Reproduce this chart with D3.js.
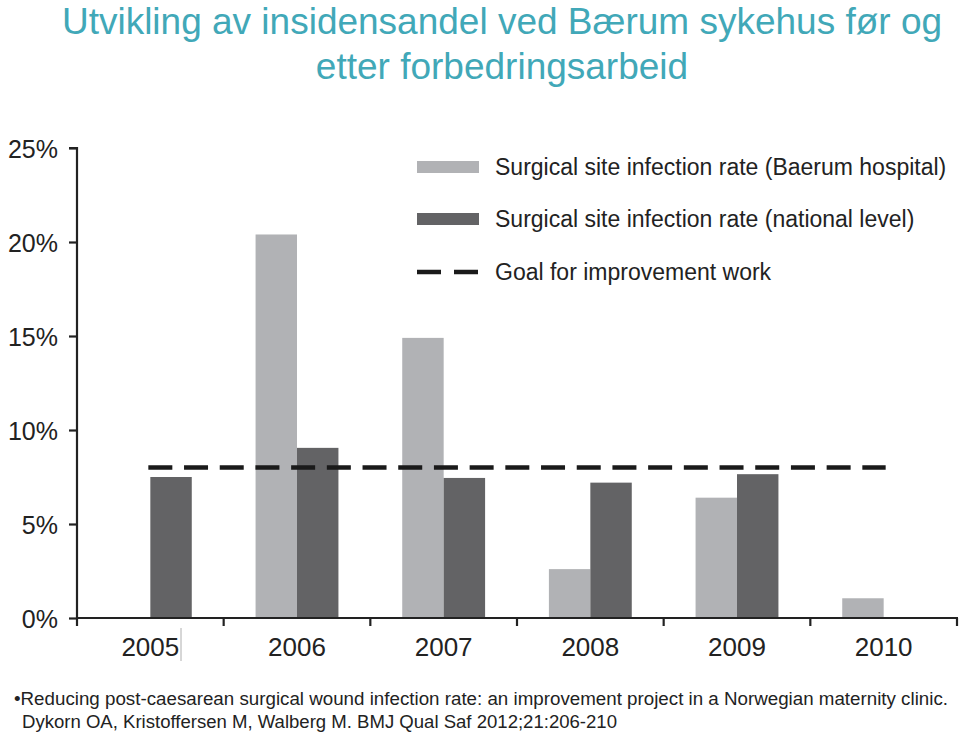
<!DOCTYPE html>
<html>
<head>
<meta charset="utf-8">
<script src="https://cdn.jsdelivr.net/npm/d3@7"></script>
<style>
  html, body { margin: 0; padding: 0; background: #fff; }
  svg { display: block; font-family: "Liberation Sans", Arial, sans-serif; }
</style>
</head>
<body>
<svg id="chart" width="960" height="734"></svg>
<script>
// ---- data ----
const titleLines = ["Utvikling av insidensandel ved Bærum sykehus før og", "etter forbedringsarbeid"];
const years = ["2005", "2006", "2007", "2008", "2009", "2010"];
const baerum = [null, 20.4, 14.9, 2.6, 6.4, 1.05];
const national = [7.5, 9.05, 7.45, 7.2, 7.65, null];
const goal = 8;
const yTicks = [0, 5, 10, 15, 20, 25];
const seriesNames = ["Surgical site infection rate (Baerum hospital)", "Surgical site infection rate (national level)", "Goal for improvement work"];
const footerLines = ["•Reducing post-caesarean surgical wound infection rate: an improvement project in a Norwegian maternity clinic.", "Dykorn OA, Kristoffersen M, Walberg M. BMJ Qual Saf 2012;21:206-210"];

const colLight = "#b1b2b5", colDark = "#636365", colTitle = "#41a8b8", colText = "#222";

const svg = d3.select("#chart");

// title
svg.append("g").selectAll("text").data(titleLines).join("text")
  .attr("x", 502).attr("y", (d, i) => 34 + i * 45)
  .attr("text-anchor", "middle").attr("fill", colTitle)
  .attr("font-size", 37).text(d => d);

// scales
const x = d3.scaleBand().domain(years).range([77, 957]).padding(0);
const x1 = d3.scaleBand().domain(["baerum", "national"]).range([0, x.bandwidth()]).paddingInner(0).paddingOuter(0.77);
const y = d3.scaleLinear().domain([0, 25]).range([618, 148]);

// bars
const rows = years.map((yr, i) => ({ yr, baerum: baerum[i], national: national[i] }));
const g = svg.append("g");
const grp = g.selectAll("g.year").data(rows).join("g").attr("transform", d => `translate(${x(d.yr)},0)`);
grp.selectAll("rect").data(d => [
  { k: "baerum", v: d.baerum, c: colLight },
  { k: "national", v: d.national, c: colDark }
].filter(e => e.v != null)).join("rect")
  .attr("x", e => x1(e.k)).attr("width", x1.bandwidth())
  .attr("y", e => y(e.v)).attr("height", e => y(0) - y(e.v))
  .attr("fill", e => e.c);

// goal line
svg.append("line")
  .attr("x1", x(years[0]) + x.bandwidth() / 2 - 2)
  .attr("x2", x(years[years.length - 1]) + x.bandwidth() / 2 + 2)
  .attr("y1", y(goal)).attr("y2", y(goal))
  .attr("stroke", "#1a1a1a").attr("stroke-width", 4.5)
  .attr("stroke-dasharray", "24,11.7").attr("stroke-linecap", "butt");

// y axis
const yAxis = d3.axisLeft(y).tickValues(yTicks).tickFormat(d => d + "%").tickSize(8).tickPadding(11);
const ya = svg.append("g").attr("transform", "translate(77,0)").call(yAxis);
ya.select(".domain").attr("stroke", colText).attr("stroke-width", 2.2).attr("d", `M-8,${y(25)}H0V${y(0) + 8}`);
ya.selectAll(".tick line").attr("stroke", colText).attr("stroke-width", 2.2);
ya.selectAll(".tick text").attr("font-size", 25).attr("fill", colText).attr("font-family", "Liberation Sans, Arial, sans-serif").attr("dy", "0.36em");

// x axis
const xa = svg.append("g");
xa.append("line").attr("x1", 77).attr("x2", 958).attr("y1", y(0)).attr("y2", y(0))
  .attr("stroke", colText).attr("stroke-width", 2.2);
const bounds = years.map(d => x(d) + x.step());
xa.selectAll("line.tk").data(bounds).join("line").attr("class", "tk")
  .attr("x1", d => d).attr("x2", d => d).attr("y1", y(0)).attr("y2", y(0) + 8)
  .attr("stroke", colText).attr("stroke-width", 2.2);
xa.selectAll("text").data(years).join("text")
  .attr("x", d => x(d) + x.bandwidth() / 2).attr("y", 656)
  .attr("text-anchor", "middle").attr("font-size", 26).attr("fill", colText).text(d => d);
// small stray mark after 2005 label
xa.append("line").attr("x1", 181).attr("x2", 181).attr("y1", 628).attr("y2", 661)
  .attr("stroke", "#999").attr("stroke-width", 0.8);

// legend
const lg = svg.append("g");
const legY = [167, 219, 272];
lg.append("rect").attr("x", 417).attr("y", legY[0] - 6).attr("width", 62).attr("height", 12).attr("fill", colLight);
lg.append("rect").attr("x", 417).attr("y", legY[1] - 6).attr("width", 62).attr("height", 12).attr("fill", colDark);
lg.append("line").attr("x1", 417).attr("x2", 479).attr("y1", legY[2]).attr("y2", legY[2])
  .attr("stroke", "#1a1a1a").attr("stroke-width", 4.5).attr("stroke-dasharray", "24,13");
lg.selectAll("text").data(seriesNames).join("text")
  .attr("x", 495).attr("y", (d, i) => legY[i] + 8)
  .attr("font-size", 23).attr("fill", colText).text(d => d);

// footer
svg.append("g").selectAll("text").data(footerLines).join("text")
  .attr("x", (d, i) => i === 0 ? 14 : 22).attr("y", (d, i) => 705 + i * 23)
  .attr("font-size", 17.5).attr("fill", colText)
  .attr("textLength", (d, i) => i === 0 ? 934 : 595).attr("lengthAdjust", "spacingAndGlyphs")
  .text(d => d);
</script>
</body>
</html>
